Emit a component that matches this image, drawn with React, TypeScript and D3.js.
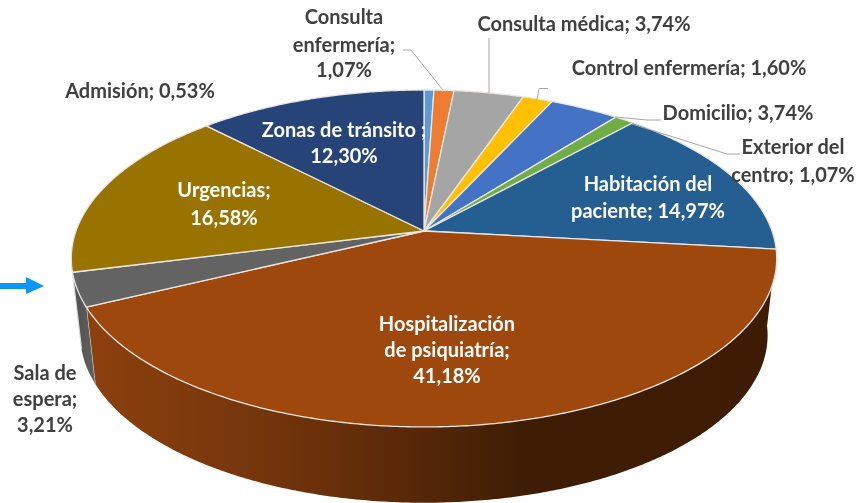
import React from "react";
import * as d3 from "d3";

const categories = ["Admisión", "Consulta enfermería", "Consulta médica", "Control enfermería", "Domicilio", "Exterior del centro", "Habitación del paciente", "Hospitalización de psiquiatría", "Sala de espera", "Urgencias", "Zonas de tránsito"];
const values = [0.53, 1.07, 3.74, 1.6, 3.74, 1.07, 14.97, 41.18, 3.21, 16.58, 12.3];
const colors = ["#5b9bd5", "#ed7d31", "#a5a5a5", "#ffc000", "#4472c4", "#70ad47", "#255e91", "#9e480e", "#636363", "#997300", "#264478"];
const wallCategories = ["Hospitalización de psiquiatría", "Sala de espera"];

type Label = { lines: string[]; x: number; ys: number[]; fill: string };
const DARK = "#404040";
const labels: Label[] = [
  { lines: ["Consulta", "enfermería;", "1,07%"], x: 344, ys: [19, 47, 72], fill: DARK },
  { lines: ["Consulta médica; 3,74%"], x: 584, ys: [26], fill: DARK },
  { lines: ["Control enfermería; 1,60%"], x: 689, ys: [70], fill: DARK },
  { lines: ["Domicilio; 3,74%"], x: 738, ys: [115], fill: DARK },
  { lines: ["Exterior del"], x: 793, ys: [149], fill: DARK },
  { lines: ["centro; 1,07%"], x: 793, ys: [177], fill: DARK },
  { lines: ["Habitación del", "paciente; 14,97%"], x: 648, ys: [186, 213], fill: "#ffffff" },
  { lines: ["Hospitalización", "de psiquiatría;", "41,18%"], x: 447, ys: [326, 352, 378], fill: "#ffffff" },
  { lines: ["Urgencias;", "16,58%"], x: 224, ys: [192, 220], fill: "#ffffff" },
  { lines: ["Zonas de tránsito ;", "12,30%"], x: 344, ys: [132, 158], fill: "#ffffff" },
  { lines: ["Admisión; 0,53%"], x: 140, ys: [93], fill: DARK },
  { lines: ["Sala de", "espera;", "3,21%"], x: 45, ys: [375, 401, 427], fill: DARK },
];

const leaders: [number, number][][] = [
  [[403, 50], [411, 50], [443, 90]],
  [[489, 38], [489, 93]],
  [[548, 88.5], [539, 88.5], [537, 100]],
  [[661, 120], [647, 120], [615, 117]],
  [[740, 154], [727, 154], [632, 124]],
];

const wallStopsX = [93, 200, 300, 424, 520, 770];
const wallStopsC = ["#8c400e", "#7d390c", "#6e320a", "#552708", "#3f1d05", "#3e1c04"];
const salaStopsX = [72, 93];
const salaStopsC = ["#4f4f4f", "#5f5f5f"];

// Perspective projection of a flat disc onto the screen
const P = 0.163;
const project = (a: number, cx: number, y0: number, b: number, h: number): [number, number] => {
  const u = Math.sin(a), v = Math.cos(a), w = 1 + P * v;
  return [cx + (b * u) / w, y0 - (h * v) / w];
};
const top = (a: number) => project(a, 424, 231, 348, 164);
const bot = (a: number) => project(a, 424, 308, 339, 163);

const line = d3.line<[number, number]>();
const STEP = Math.PI / 360;

function Gradient({ id, xs, cs }: { id: string; xs: number[]; cs: string[] }) {
  const offset = d3.scaleLinear().domain([xs[0], xs[xs.length - 1]]).range([0, 1]);
  return (
    <linearGradient id={id} gradientUnits="userSpaceOnUse" x1={xs[0]} x2={xs[xs.length - 1]} y1={0} y2={0}>
      {xs.map((x, i) => <stop key={i} offset={offset(x)} stopColor={cs[i]} />)}
    </linearGradient>
  );
}

export default function App() {
  const arcs = d3.pie<number>().sort(null).startAngle(0).endAngle(2 * Math.PI)(values);
  const sample = (a0: number, a1: number) => d3.range(a0, a1, STEP).concat(a1);

  return (
    <svg width={859} height={503} style={{ position: "absolute", left: 0, top: 0, display: "block" }}
      fontFamily="Lato, 'Open Sans', sans-serif" fontWeight={700} fontSize={20}>
      <defs>
        <Gradient id="wall-h" xs={wallStopsX} cs={wallStopsC} />
        <Gradient id="wall-s" xs={salaStopsX} cs={salaStopsC} />
        <filter id="soft" x="-5%" y="-20%" width="110%" height="140%">
          <feGaussianBlur stdDeviation={0.35} />
        </filter>
      </defs>
      <rect width={859} height={503} fill="#fff" />
      {/* walls */}
      {arcs.map((d, i) => {
        if (!wallCategories.includes(categories[i])) return null;
        const as = sample(d.startAngle, d.endAngle);
        const pts = [...as.map(top), ...as.slice().reverse().map(bot)];
        return (
          <g key={i}>
            <path d={line(pts)! + "Z"} fill={categories[i] === "Sala de espera" ? "url(#wall-s)" : "url(#wall-h)"} />
            <path d={line([top(d.endAngle), bot(d.endAngle)])!} stroke="#d9d9d9" strokeWidth={1.2} fill="none" />
          </g>
        );
      })}
      {/* top face */}
      {arcs.map((d, i) => {
        const pts: [number, number][] = [[424, 231], ...sample(d.startAngle, d.endAngle).map(top)];
        return <path key={i} d={line(pts)! + "Z"} fill={colors[i]} stroke="#e9e6e2" strokeWidth={1.3} strokeLinejoin="round" />;
      })}
      {/* leader lines */}
      {leaders.map((l, i) => (
        <path key={i} d={line(l)!} fill="none" stroke="#a6a6a6" strokeWidth={1} />
      ))}
      {/* labels */}
      <g filter="url(#soft)">
        {labels.map((l, i) =>
          l.lines.map((t, j) => (
            <text key={`${i}-${j}`} x={l.x} y={l.ys[j]} textAnchor="middle" dominantBaseline="middle" fill={l.fill}>{t}</text>
          ))
        )}
      </g>
      {/* arrow */}
      <path d="M0,283H26V277L44,286L26,294V289H0Z" fill="#0a96fa" />
    </svg>
  );
}
